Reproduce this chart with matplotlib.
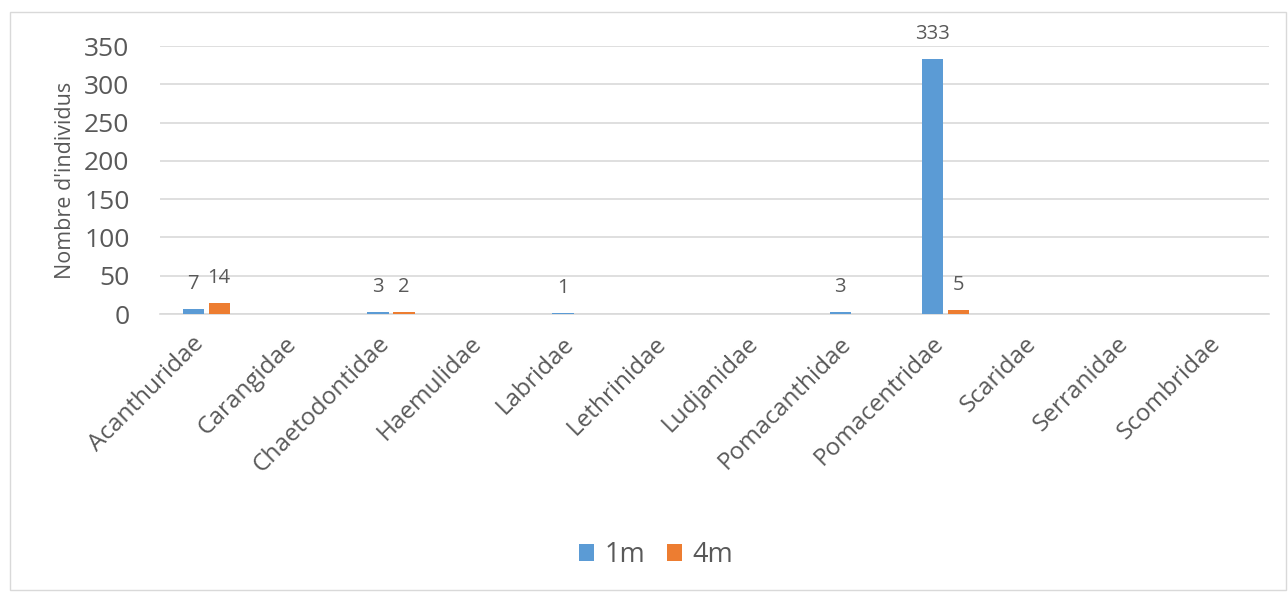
import matplotlib
matplotlib.use("Agg")
import matplotlib.pyplot as plt
from matplotlib.patches import Rectangle
from matplotlib.transforms import ScaledTranslation
import numpy as np

categories = ["Acanthuridae", "Carangidae", "Chaetodontidae", "Haemulidae", "Labridae",
              "Lethrinidae", "Ludjanidae", "Pomacanthidae", "Pomacentridae", "Scaridae",
              "Serranidae", "Scombridae"]
series_1m = [7, None, 3, None, 1, None, None, 3, 333, None, None, None]
series_4m = [14, None, 2, None, None, None, None, None, 5, None, None, None]
yticks = [0, 50, 100, 150, 200, 250, 300, 350]

plt.rcParams['font.family'] = ['Open Sans', 'DejaVu Sans']
TXT = "#595959"
BLUE = "#5B9BD5"
ORANGE = "#ED7D31"

fig = plt.figure(figsize=(12.88, 5.92), dpi=100)
ax = fig.add_axes([160/1288, 1-314/592, 1109/1288, 268/592])

x = np.arange(len(categories))
w = 0.23
off = 0.14

def vals(s):
    return np.array([np.nan if v is None else v for v in s], dtype=float)

v1 = vals(series_1m)
v4 = vals(series_4m)
ax.bar(x - off, np.nan_to_num(v1), w, color=BLUE, label="1m", zorder=3)
ax.bar(x + off, np.nan_to_num(v4), w, color=ORANGE, label="4m", zorder=3)

for xs, vs in ((x - off, series_1m), (x + off, series_4m)):
    for xi, v in zip(xs, vs):
        if v is not None:
            ax.annotate(str(v), (xi, v), xytext=(0, 18), textcoords="offset points",
                        ha="center", va="center", fontsize=14.5, color=TXT, clip_on=False)

ax.set_xlim(-0.5, len(categories) - 0.5)
ax.set_ylim(0, 350)
ax.set_yticks(yticks)
ax.set_yticklabels([str(t) for t in yticks], fontsize=19, color=TXT)
ax.tick_params(axis="y", length=0, pad=22)
ax.set_xticks(x)
ax.set_xticklabels(categories, rotation=45, ha="right", rotation_mode="anchor",
                   fontsize=17.5, color=TXT)
ax.tick_params(axis="x", length=0, pad=10)
shift = ScaledTranslation(-14/100, -4/100, fig.dpi_scale_trans)
for lab in ax.get_xticklabels():
    lab.set_transform(lab.get_transform() + shift)
ax.yaxis.grid(True, color="#D9D9D9", linewidth=1.2, zorder=0)
ax.set_axisbelow(True)
for s in ["top", "right", "left"]:
    ax.spines[s].set_visible(False)
ax.spines["bottom"].set_color("#D9D9D9")
ax.spines["bottom"].set_linewidth(1.2)
ax.set_ylabel("Nombre d'individus", fontsize=15.5, color=TXT)
ax.yaxis.set_label_coords(-0.0755, 0.5)

leg = fig.legend(loc="center", bbox_to_anchor=(656/1288, 1-555/592), ncol=2, frameon=False,
                 fontsize=19.5, handlelength=0.55, handleheight=0.55, handletextpad=0.4,
                 columnspacing=0.8)
for t in leg.get_texts():
    t.set_color(TXT)

fig.patches.append(Rectangle((10/1288, 2/592), 1276/1288, 578/592, transform=fig.transFigure,
                             fill=False, edgecolor="#D9D9D9", linewidth=1))

fig.savefig("out.png", dpi=100)
